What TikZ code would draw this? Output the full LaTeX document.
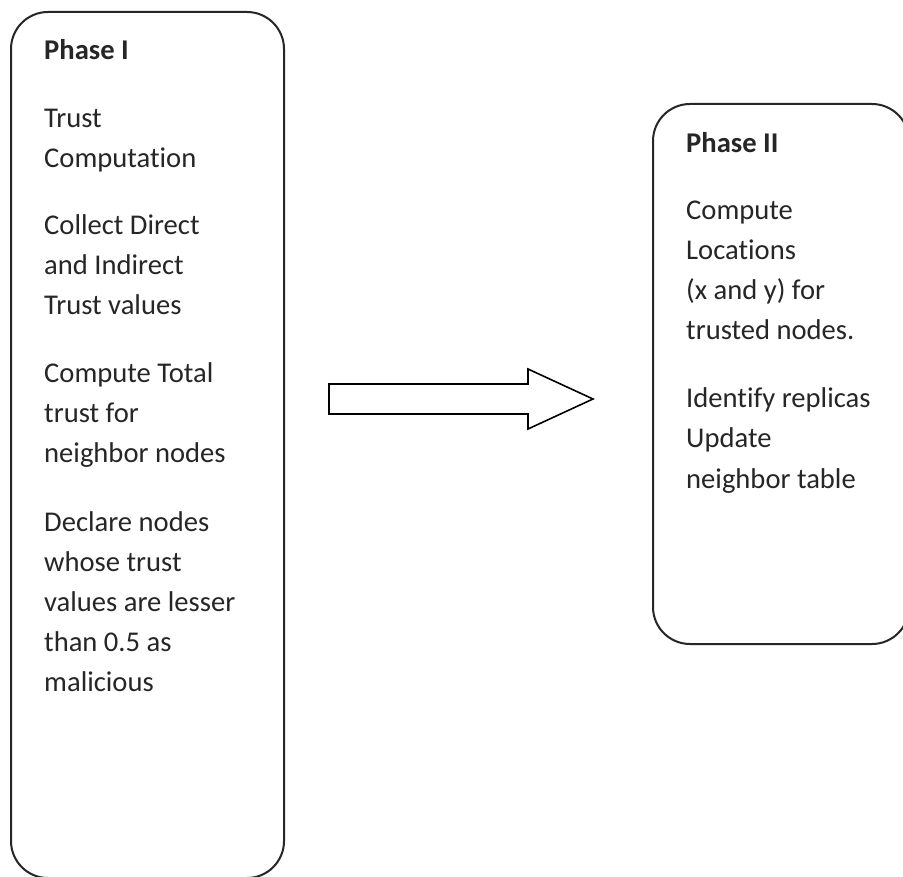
\documentclass[tikz,border=0pt]{standalone}
\usepackage{fontspec}
\setmainfont[Ligatures={NoCommon}]{Carlito}
\begin{document}
\begin{tikzpicture}[x=1pt,y=-1pt,
  phasebox/.style={draw=black!85, line width=2pt, rounded corners=37pt, minimum width=#1, inner sep=0pt},
  txt/.style={anchor=base west, inner sep=0pt, text=black!85, font=\fontsize{28.6}{40}\selectfont},
  ttl/.style={txt, font=\fontsize{28.6}{40}\selectfont\bfseries}]
\useasboundingbox (0,0) rectangle (903,877);
\clip (0,0) rectangle (903,877);
\fill[white] (0,0) rectangle (903,877);
% boxes
\node[phasebox=273pt, minimum height=866pt] (p1) at (147.5,445) {};
\node[phasebox=256pt, minimum height=540pt] (p2) at (781,374) {};
% block arrow
\draw[black, line width=1.6pt, line join=miter]
  (329,384) -- (528,384) -- (528,369) -- (593,399) -- (528,429) -- (528,414) -- (329,414) -- cycle;
% Phase I text
\node[ttl] (t1) at (44,60) {Phase I};
\foreach \y/\s [count=\i] in {128/Trust, 168/Computation, 235/Collect Direct, 275/and Indirect,
  315/Trust values, 383/Compute Total, 423/trust for, 463/neighbor nodes, 531/Declare nodes,
  571/whose trust, 611/values are lesser, 651/than 0.5 as, 691/malicious}
  \node[txt] (l\i) at (44,\y) {\s};
% Phase II text
\node[ttl] (t2) at (686,153) {Phase II};
\foreach \y/\s [count=\i] in {220/Compute, 260/Locations, 300/(x and y) for, 340/trusted nodes.,
  408/Identify replicas, 448/Update, 488/neighbor table}
  \node[txt] (r\i) at (686,\y) {\s};
\end{tikzpicture}
\end{document}
